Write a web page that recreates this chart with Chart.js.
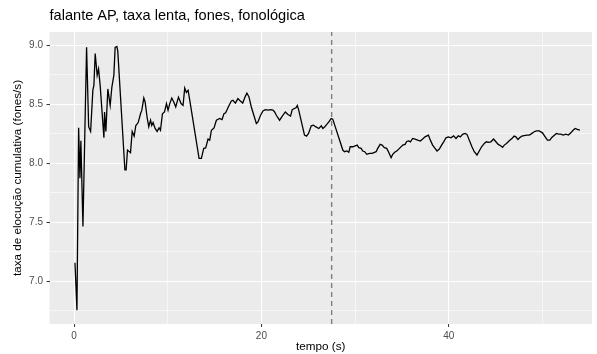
<!DOCTYPE html>
<html>
<head>
<meta charset="utf-8">
<script src="https://cdn.jsdelivr.net/npm/chart.js@4"></script>
<style>
  html, body { margin: 0; padding: 0; background: #ffffff; }
  canvas { display: block; }
</style>
</head>
<body>
<canvas id="chart" width="597" height="354"></canvas>
<script>
// Cumulative speaking rate over time (seconds vs phones per second)
const timeS = [
  0.09, 0.30, 0.48, 0.62, 0.72, 0.94, 1.33, 1.55, 1.76, 2.00,
  2.11, 2.25, 2.46, 2.61, 2.78, 3.18, 3.25, 3.39, 3.60, 3.85,
  4.03, 4.24, 4.38, 4.56, 4.66, 5.42, 5.55, 5.70, 6.02, 6.20,
  6.41, 6.59, 6.84, 7.09, 7.23, 7.44, 7.58, 7.79, 7.97, 8.16,
  8.29, 8.43, 8.65, 8.86, 9.07, 9.22, 9.43, 9.65, 9.86, 10.03,
  10.21, 10.43, 10.64, 10.85, 11.14, 11.42, 11.63, 11.81, 11.99, 12.17,
  12.35, 13.34, 13.59, 13.84, 14.05, 14.30, 14.48, 14.66, 14.94, 15.19,
  15.54, 15.79, 16.00, 16.18, 16.50, 16.79, 16.96, 17.22, 17.49, 17.75,
  18.00, 18.28, 18.45, 18.67, 18.92, 19.46, 19.63, 19.91, 20.16, 20.42,
  20.70, 20.98, 21.23, 21.41, 21.59, 21.94, 22.23, 22.55, 22.83, 23.11,
  23.29, 23.72, 23.83, 23.97, 24.60, 24.82, 25.03, 25.32, 25.56, 25.78,
  26.13, 26.39, 26.56, 26.77, 26.98, 27.20, 27.45, 27.62, 28.69, 28.87,
  29.12, 29.33, 29.48, 29.76, 30.22, 30.40, 30.65, 30.82, 31.03, 31.25,
  31.54, 31.82, 32.07, 32.25, 32.42, 32.68, 32.89, 33.13, 33.38, 33.59,
  33.85, 34.02, 34.23, 34.45, 34.66, 35.09, 35.34, 35.51, 35.73, 35.91,
  36.15, 36.41, 36.68, 36.97, 37.22, 37.47, 37.83, 38.04, 38.28, 38.54,
  38.75, 39.00, 39.24, 39.46, 39.71, 39.96, 40.25, 40.52, 40.78, 41.02,
  41.24, 41.48, 41.74, 41.95, 42.20, 42.48, 42.73, 43.02, 43.26, 43.51,
  43.80, 44.01, 44.25, 44.51, 44.79, 45.04, 45.29, 45.58, 45.75, 45.93,
  46.17, 46.46, 46.75, 46.99, 47.17, 47.39, 47.60, 47.81, 48.30, 48.59,
  48.77, 49.13, 49.37, 49.66, 50.01, 50.30, 50.54, 50.80, 51.01, 51.50,
  51.72, 51.97, 52.22, 52.50, 52.78, 53.04, 53.28, 53.50, 53.74, 54.00
];
const rate = [
  7.157, 6.755, 8.300, 7.873, 8.190, 7.465, 8.983, 8.310, 8.270, 8.620,
  8.660, 8.930, 8.745, 8.800, 8.660, 8.216, 8.435, 8.270, 8.630, 8.490,
  8.646, 8.745, 8.983, 8.990, 8.950, 7.944, 7.944, 8.112, 8.090, 8.270,
  8.230, 8.320, 8.345, 8.420, 8.450, 8.553, 8.520, 8.390, 8.310, 8.365,
  8.320, 8.345, 8.295, 8.270, 8.300, 8.280, 8.420, 8.435, 8.506, 8.450,
  8.506, 8.553, 8.520, 8.477, 8.560, 8.506, 8.490, 8.637, 8.600, 8.618,
  8.534, 8.042, 8.042, 8.126, 8.130, 8.205, 8.196, 8.280, 8.300, 8.365,
  8.380, 8.370, 8.420, 8.427, 8.483, 8.528, 8.534, 8.510, 8.548, 8.528,
  8.510, 8.567, 8.595, 8.562, 8.477, 8.337, 8.350, 8.407, 8.444, 8.455,
  8.450, 8.455, 8.450, 8.435, 8.407, 8.365, 8.400, 8.435, 8.413, 8.400,
  8.455, 8.472, 8.490, 8.455, 8.239, 8.230, 8.253, 8.317, 8.323, 8.310,
  8.295, 8.317, 8.295, 8.310, 8.329, 8.350, 8.379, 8.374, 8.112, 8.098,
  8.104, 8.093, 8.140, 8.140, 8.154, 8.132, 8.126, 8.104, 8.098, 8.076,
  8.084, 8.084, 8.093, 8.098, 8.126, 8.160, 8.154, 8.132, 8.126, 8.093,
  8.047, 8.076, 8.093, 8.104, 8.120, 8.154, 8.160, 8.185, 8.190, 8.182,
  8.210, 8.205, 8.196, 8.188, 8.205, 8.224, 8.239, 8.196, 8.154, 8.126,
  8.104, 8.120, 8.154, 8.182, 8.216, 8.224, 8.216, 8.233, 8.210, 8.233,
  8.224, 8.245, 8.253, 8.245, 8.196, 8.140, 8.098, 8.070, 8.104, 8.140,
  8.168, 8.182, 8.177, 8.182, 8.205, 8.182, 8.160, 8.146, 8.135, 8.154,
  8.168, 8.190, 8.210, 8.230, 8.224, 8.202, 8.219, 8.230, 8.239, 8.239,
  8.247, 8.267, 8.275, 8.275, 8.258, 8.224, 8.196, 8.196, 8.219, 8.253,
  8.247, 8.247, 8.239, 8.247, 8.239, 8.258, 8.280, 8.295, 8.287, 8.280
];

// Reference time marked with a dashed vertical line
const markerTime = 27.5;

// Axis ticks (major ones are labelled, minor ones only get a grid line)
const xMajorTicks = [0, 20, 40];
const xMinorTicks = [10, 30, 50];
const yMajorTicks = [7.0, 7.5, 8.0, 8.5, 9.0];
const yMinorTicks = [6.75, 7.25, 7.75, 8.25, 8.75];

const titleText = 'falante AP, taxa lenta, fones, fonológica';
const xTitle = 'tempo (s)';
const yTitle = 'taxa de elocução cumulativa (fones/s)';

// Axis ranges, padded like ggplot's default expansion
const xRange = [-2.63, 55.3];
const yRange = [6.6375, 9.1125];

const FONT = '"Liberation Sans", Arial, Helvetica, sans-serif';

const isMajor = (list, v) => list.some(m => Math.abs(m - v) < 1e-6);

const panelBackground = {
  id: 'panelBackground',
  beforeDraw(chart) {
    const { ctx, chartArea: a } = chart;
    ctx.save();
    ctx.fillStyle = '#EBEBEB';
    ctx.fillRect(a.left, a.top, a.right - a.left, a.bottom - a.top);
    ctx.restore();
  }
};

function gridFor(majors) {
  return {
    color: '#FFFFFF',
    lineWidth: c => (c.tick && isMajor(majors, c.tick.value)) ? 1.1 : 0.55,
    drawTicks: true,
    tickLength: 3,
    tickWidth: 1,
    tickColor: c => (c.tick && isMajor(majors, c.tick.value)) ? '#333333' : 'rgba(0,0,0,0)'
  };
}

new Chart(document.getElementById('chart'), {
  type: 'line',
  data: {
    datasets: [
      {
        data: timeS.map((t, i) => ({ x: t, y: rate[i] })),
        borderColor: '#000000',
        borderWidth: 1.3,
        pointRadius: 0,
        tension: 0,
        order: 2
      },
      {
        data: [{ x: markerTime, y: yRange[0] }, { x: markerTime, y: yRange[1] }],
        borderColor: '#7F7F7F',
        borderWidth: 1.4,
        borderDash: [5, 4],
        pointRadius: 0,
        order: 1
      }
    ]
  },
  options: {
    responsive: false,
    animation: false,
    devicePixelRatio: 1,
    layout: { padding: { left: 0, right: 5, top: 0, bottom: 0 } },
    plugins: {
      legend: { display: false },
      tooltip: { enabled: false },
      title: {
        display: true,
        text: titleText,
        align: 'start',
        fullSize: false,
        color: '#000000',
        font: { family: FONT, size: 14.6, weight: 'normal' },
        padding: { top: 7.5, bottom: 7 }
      }
    },
    scales: {
      x: {
        type: 'linear',
        min: xRange[0],
        max: xRange[1],
        afterBuildTicks: s => {
          s.ticks = xMajorTicks.concat(xMinorTicks).sort((a, b) => a - b).map(v => ({ value: v }));
        },
        afterFit: s => { s.height = 30; },
        ticks: {
          autoSkip: false,
          maxRotation: 0,
          padding: 3.5,
          color: '#4D4D4D',
          font: { family: FONT, size: 10 },
          callback: v => isMajor(xMajorTicks, v) ? String(v) : ''
        },
        grid: gridFor(xMajorTicks),
        border: { display: false },
        title: {
          display: true,
          text: xTitle,
          color: '#000000',
          font: { family: FONT, size: 11.7 },
          padding: { top: 0, bottom: 0 }
        }
      },
      y: {
        type: 'linear',
        min: yRange[0],
        max: yRange[1],
        afterBuildTicks: s => {
          s.ticks = yMajorTicks.concat(yMinorTicks).sort((a, b) => a - b).map(v => ({ value: v }));
        },
        afterFit: s => { s.width = 49.5; },
        ticks: {
          autoSkip: false,
          padding: 3.5,
          color: '#4D4D4D',
          font: { family: FONT, size: 10 },
          callback: v => isMajor(yMajorTicks, v) ? v.toFixed(1) : ''
        },
        grid: gridFor(yMajorTicks),
        border: { display: false },
        title: {
          display: true,
          text: yTitle,
          color: '#000000',
          font: { family: FONT, size: 11.7 },
          padding: { top: 11, bottom: 0 }
        }
      }
    }
  },
  plugins: [panelBackground]
});
</script>
</body>
</html>
